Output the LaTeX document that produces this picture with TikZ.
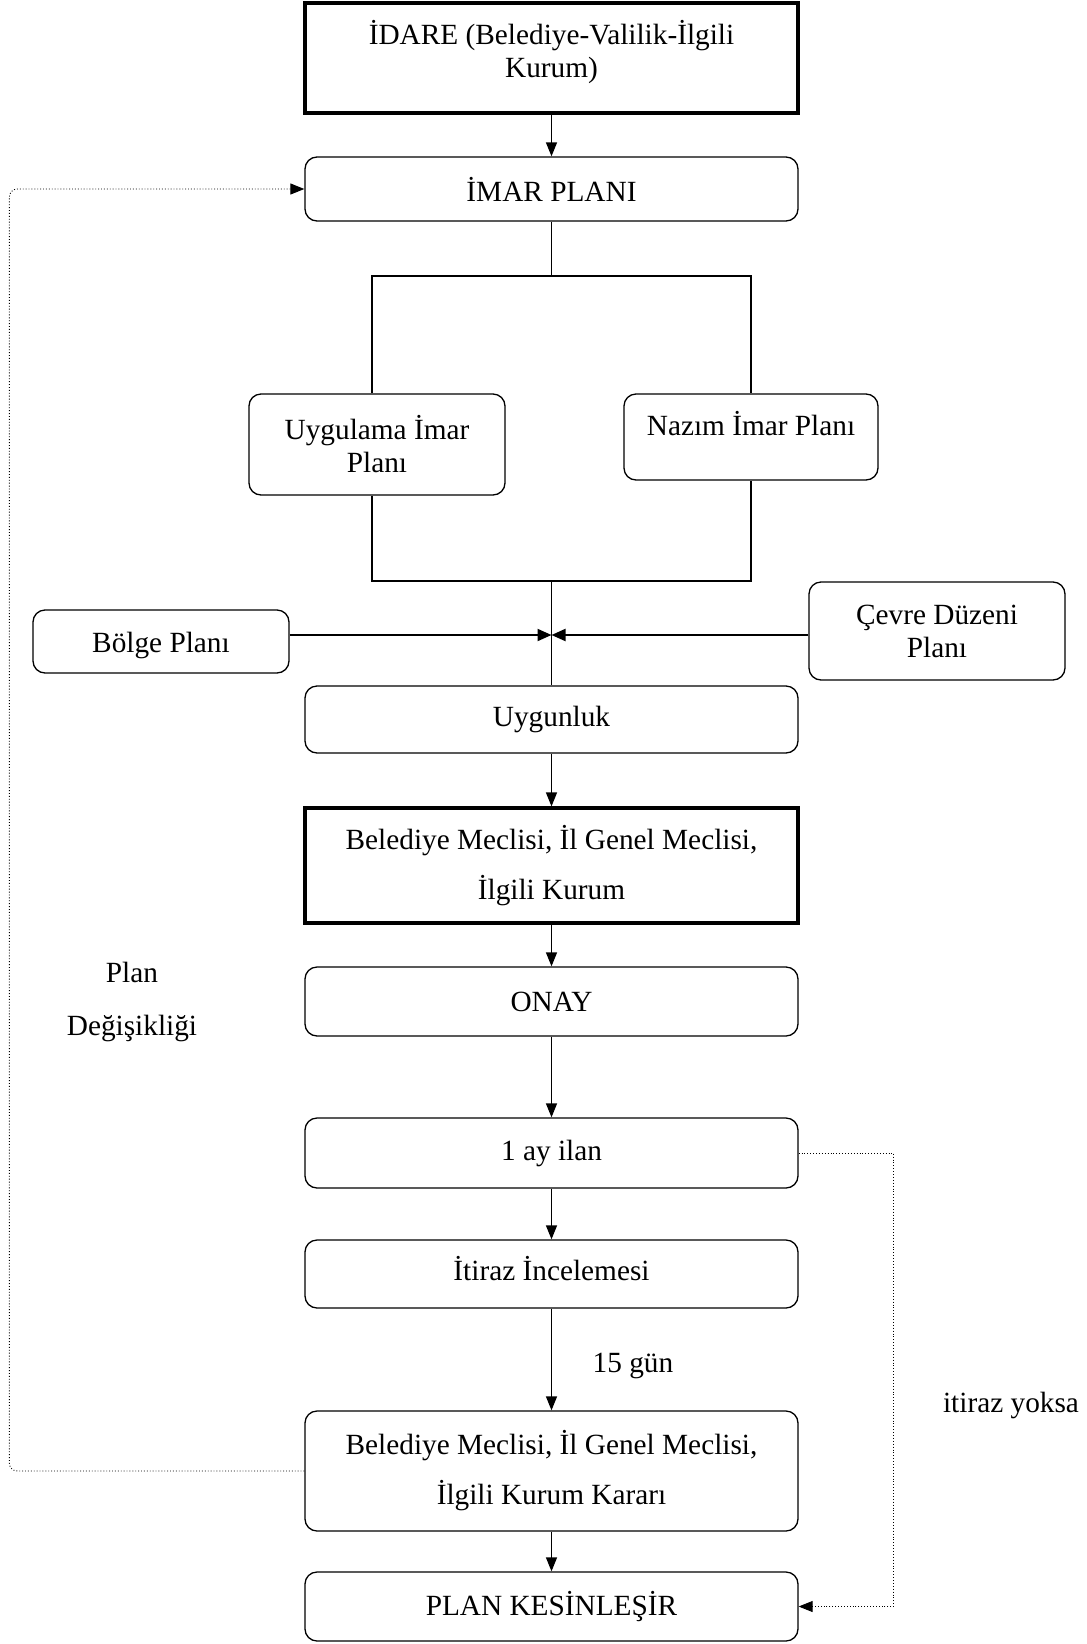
\documentclass[tikz,border=0pt]{standalone}
\usepackage{fontspec}
\setmainfont{Liberation Serif}
\usetikzlibrary{arrows.meta, positioning}

\begin{document}
\begin{tikzpicture}[
  x=1pt, y=-1pt,
  every node/.style={font=\fontsize{29.3}{33}\selectfont},
  box/.style={draw, rounded corners=12pt, line width=1.3pt, align=center,
              minimum width=493pt, inner sep=4pt},
  boldbox/.style={draw, line width=3.2pt, align=center,
                  minimum width=493pt, inner sep=4pt},
  sidebox/.style={draw, rounded corners=12pt, line width=1.3pt, align=center,
                  minimum width=256pt, inner sep=4pt},
  link/.style={line width=1.3pt, -{Triangle[length=14pt,width=11pt]}},
  feed/.style={line width=2pt, -{Triangle[length=14pt,width=12pt]}},
  fbline/.style={dotted, line width=0.9pt, -{Triangle[length=14pt,width=11pt]}},
]
\useasboundingbox (0,0) rectangle (1087,1644);

% Main column
\node[boldbox, minimum height=110pt, text depth=19pt] (idare) at (551.5,58) {%
  İDARE (Belediye-Valilik-İlgili\\Kurum)};
\node[box, minimum height=64pt] (imar) at (551.5,189) {İMAR PLANI};

% Plan types
\node[sidebox, minimum height=101pt] (uygulama) at (377,444.5) {Uygulama İmar\\Planı};
\node[sidebox, minimum height=86pt, minimum width=254pt, text depth=28pt] (nazim) at (751,437) {Nazım İmar Planı};

% Upper plans
\node[sidebox, minimum height=63pt, text height=29pt] (bolge) at (161,641.5) {Bölge Planı};
\node[sidebox, minimum height=98pt] (cevre) at (937,631) {Çevre Düzeni\\Planı};

% Main column, continued
\node[box, minimum height=67pt] (uygun) at (551.5,719.5) {Uygunluk};
\node[boldbox, minimum height=115pt, font=\fontsize{29.3}{50}\selectfont] (meclis) at (551.5,865.5) {%
  Belediye Meclisi, İl Genel Meclisi,\\İlgili Kurum};
\node[box, minimum height=69pt] (onay) at (551.5,1001.5) {ONAY};
\node[box, minimum height=70pt] (ilan) at (551.5,1153) {1 ay ilan};
\node[box, minimum height=68pt, text depth=12pt] (itiraz) at (551.5,1274) {İtiraz İncelemesi};
\node[box, minimum height=120pt, font=\fontsize{29.3}{50}\selectfont] (karar) at (551.5,1471) {%
  Belediye Meclisi, İl Genel Meclisi,\\İlgili Kurum Kararı};
\node[box, minimum height=69pt] (kesin) at (551.5,1606.5) {PLAN KESİNLEŞİR};

% Labels
\node[align=center, font=\fontsize{29.3}{53}\selectfont] (degisik) at (132,1002) {Plan\\Değişikliği};
\node (gun) at (633,1366) {15 gün};
\node (yoksa) at (1011,1405) {itiraz yoksa};

% Junctions
\coordinate (split) at (551.5,276);
\coordinate (merge) at (551.5,581);
\coordinate (meet) at (551.5,635);

% Connectors
\draw[link] (idare) -- (imar);
\draw[line width=1.3pt] (imar) -- (split);
\draw[line width=1.3pt] ([xshift=-5pt]uygulama.north) |- (split) -| (nazim.north);
\draw[line width=1.3pt] ([xshift=-5pt]uygulama.south) |- (merge) -| (nazim.south);
\draw[line width=1.3pt] (merge) -- (uygun);
\draw[feed] (bolge.east |- meet) -- (meet);
\draw[feed] (cevre.west |- meet) -- (meet);
\draw[link] (uygun) -- (meclis);
\draw[link] (meclis) -- (onay);
\draw[link] (onay) -- (ilan);
\draw[link] (ilan) -- (itiraz);
\draw[link] (itiraz) -- (karar);
\draw[link] (karar) -- (kesin);

% Feedback loops
\draw[fbline, rounded corners=8pt] (karar.west) -- ++(-295,0) |- (imar.west);
\draw[fbline] (ilan.east) -- ++(95,0) |- (kesin.east);
\end{tikzpicture}
\end{document}
